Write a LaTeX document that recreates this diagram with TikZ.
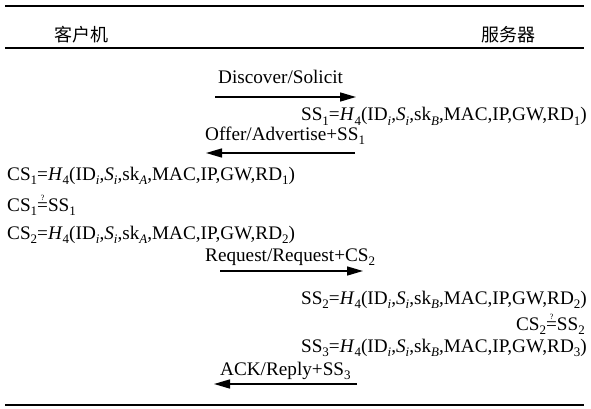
\documentclass[tikz,border=0pt]{standalone}
\usepackage{fontspec}
\setmainfont{Liberation Serif}
\newfontfamily\cjk{Noto Sans CJK SC}
\usetikzlibrary{arrows.meta}

% low-set subscript
\newcommand{\lsub}[1]{\raisebox{-4.5pt}{\fontsize{13}{13}\selectfont #1}}
% hash value line: #1 = CS or SS, #2 = index, #3 = key owner
\newcommand{\hashline}[3]{#1\lsub{#2}=\textit{H}\lsub{4}(ID\lsub{\textit{i}},\textit{S}\lsub{\textit{i}},sk\lsub{\textit{#3}},MAC,IP,GW,RD\lsub{#2})}
\newcommand{\qeq}{$\stackrel{\mbox{\fontsize{8}{8}\selectfont ?}}{\mbox{=}}$}

\begin{document}
\begin{tikzpicture}[x=1pt,y=-1pt,
  txt/.style={inner sep=0pt,font=\fontsize{19.2}{22}\selectfont},
  head/.style={inner sep=0pt,font=\cjk\fontsize{18}{20}\selectfont},
  rule/.style={line width=1.5pt},
  msg/.style={line width=1.5pt,-{Triangle[length=16pt,width=9pt]}}]
\useasboundingbox (0,0) rectangle (591,409);

% header rules and roles
\draw[rule] (5,6) -- (584,6);
\draw[rule] (5,48) -- (584,48);
\draw[rule] (5,405) -- (584,405);
\node[head] (client) at (81,35) {客户机};
\node[head] (server) at (508,35) {服务器};

% message 1
\node[txt,anchor=base west] (m1) at (218,84) {Discover/Solicit};
\coordinate (a1s) at (215,97);
\coordinate (a1e) at (356,97);
\draw[msg] (a1s) -- (a1e);
\node[txt,anchor=base east] (ss1) at (587,121) {\hashline{SS}{1}{B}};

% message 2
\node[txt,anchor=base west] (m2) at (205,140) {Offer/Advertise+SS\lsub{1}};
\coordinate (a2s) at (355,153);
\coordinate (a2e) at (206,153);
\draw[msg] (a2s) -- (a2e);
\node[txt,anchor=base west] (cs1) at (7,180) {\hashline{CS}{1}{A}};
\node[txt,anchor=base west] (chk1) at (7,211) {CS\lsub{1}\qeq SS\lsub{1}};
\node[txt,anchor=base west] (cs2) at (7,239) {\hashline{CS}{2}{A}};

% message 3
\node[txt,anchor=base west] (m3) at (205,261) {Request/Request+CS\lsub{2}};
\coordinate (a3s) at (220,271);
\coordinate (a3e) at (363,271);
\draw[msg] (a3s) -- (a3e);
\node[txt,anchor=base east] (ss2) at (587,304) {\hashline{SS}{2}{B}};
\node[txt,anchor=base east] (chk2) at (585,330) {CS\lsub{2}\qeq SS\lsub{2}};
\node[txt,anchor=base east] (ss3) at (587,352) {\hashline{SS}{3}{B}};

% message 4
\node[txt,anchor=base west] (m4) at (220,375) {ACK/Reply+SS\lsub{3}};
\coordinate (a4s) at (357,384);
\coordinate (a4e) at (214,384);
\draw[msg] (a4s) -- (a4e);
\end{tikzpicture}
\end{document}
